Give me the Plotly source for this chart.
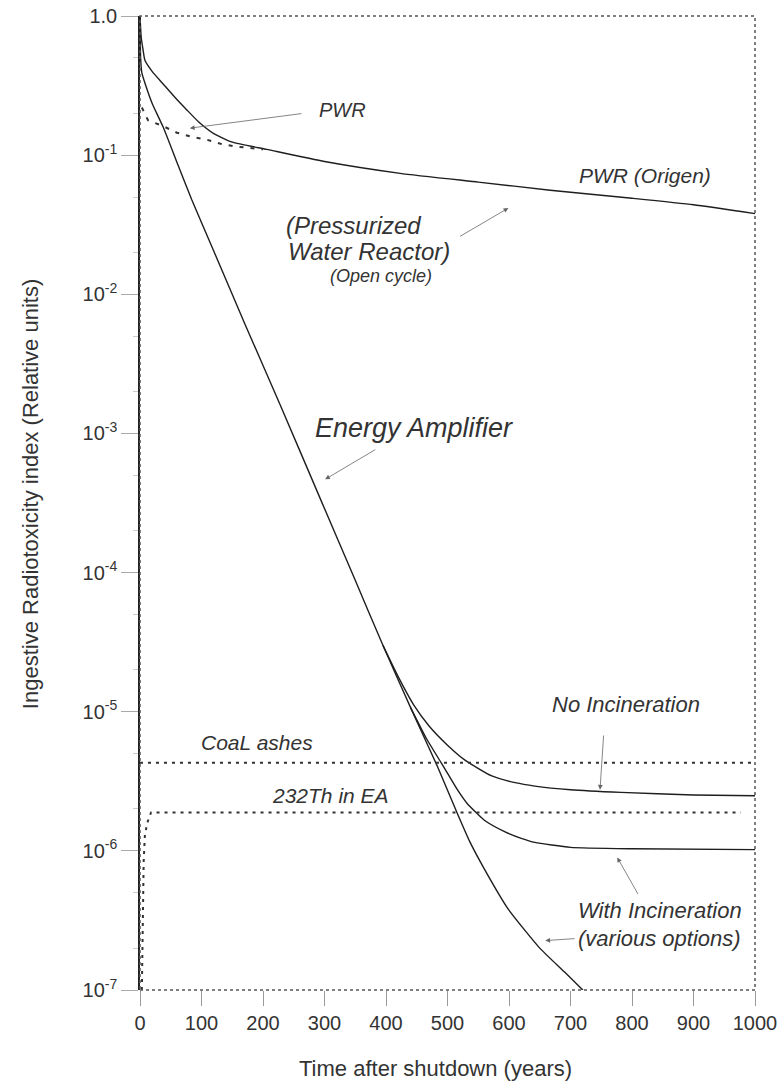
import plotly.graph_objects as go

# ---------------- data ----------------
pwr_t = [0, 2, 5, 8, 20, 37, 60, 75, 95, 120, 150, 206, 300, 423, 550, 667, 800, 900, 1000]
pwr_v = [1.0, 0.70, 0.57, 0.48, 0.398, 0.327, 0.251, 0.214, 0.174, 0.143, 0.124, 0.11,
         0.09, 0.074, 0.064, 0.056, 0.049, 0.044, 0.038]

pwr_dash_t = [3, 13, 37, 60, 85, 109, 133, 158, 200]
pwr_dash_v = [0.22, 0.178, 0.162, 0.145, 0.135, 0.129, 0.12, 0.115, 0.11]

ea_t = [0, 1, 3, 10, 20, 38, 60, 84, 119, 170, 228, 295, 350, 395, 440, 483,
        515, 536, 560, 599, 650, 690, 720]
ea_v = [1.0, 0.50, 0.39, 0.31, 0.234, 0.158, 0.089, 0.048, 0.0209, 6.2e-3, 1.6e-3,
        3.25e-4, 8.8e-5, 3.0e-5, 1.07e-5, 4.1e-6, 1.9e-6, 1.17e-6, 7.4e-7, 3.8e-7,
        2.0e-7, 1.35e-7, 1.0e-7]

noinc_t = [395, 420, 445, 470, 500, 529, 571, 610, 642, 700, 782, 900, 1000]
noinc_v = [3.0e-5, 1.78e-5, 1.12e-5, 7.9e-6, 5.75e-6, 4.47e-6, 3.47e-6, 3.09e-6,
           2.92e-6, 2.75e-6, 2.63e-6, 2.52e-6, 2.49e-6]

inc_t = [440, 465, 494, 515, 532, 560, 592, 620, 642, 700, 800, 1000]
inc_v = [1.07e-5, 6.5e-6, 4.0e-6, 2.8e-6, 2.19e-6, 1.66e-6, 1.38e-6, 1.23e-6,
         1.15e-6, 1.06e-6, 1.035e-6, 1.02e-6]

coal_t = [0, 995]
coal_v = [4.3e-6, 4.3e-6]

th_t = [3, 4, 5, 6, 8, 12, 18, 977]
th_v = [1.0e-7, 2.0e-7, 4.5e-7, 8.5e-7, 1.3e-6, 1.6e-6, 1.89e-6, 1.89e-6]

x_ticks = [0, 100, 200, 300, 400, 500, 600, 700, 800, 900, 1000]
y_tickvals = [1.0, 1e-1, 1e-2, 1e-3, 1e-4, 1e-5, 1e-6, 1e-7]
y_ticktext = ["1.0", "10<sup>-1</sup>", "10<sup>-2</sup>", "10<sup>-3</sup>",
              "10<sup>-4</sup>", "10<sup>-5</sup>", "10<sup>-6</sup>", "10<sup>-7</sup>"]

# ---------------- figure ----------------
LINE = "#1e1e1e"
TXT = "#333333"
FONT = "Liberation Sans, Arial, sans-serif"

fig = go.Figure()

def solid(t, v):
    fig.add_trace(go.Scatter(x=t, y=v, mode="lines",
                             line=dict(color=LINE, width=1.4, shape="spline", smoothing=0.5),
                             showlegend=False, hoverinfo="skip"))

def dashed(t, v, dash="3px,5px", width=2.0):
    fig.add_trace(go.Scatter(x=t, y=v, mode="lines",
                             line=dict(color="#333333", width=width, dash=dash),
                             showlegend=False, hoverinfo="skip"))

solid(pwr_t, pwr_v)
solid(ea_t, ea_v)
solid(noinc_t, noinc_v)
solid(inc_t, inc_v)
dashed(pwr_dash_t, pwr_dash_v, dash="4px,7px", width=2.0)
dashed(coal_t, coal_v)
dashed(th_t, th_v)

ann = []

def label(text, x, ylog, size, anchor="center"):
    ann.append(dict(x=x, y=ylog, xref="x", yref="y", text=f"<i>{text}</i>", showarrow=False,
                    font=dict(family=FONT, size=size, color=TXT),
                    xanchor=anchor, yanchor="middle"))

def arrow(x_head, y_head, x_tail, y_tail):
    ann.append(dict(x=x_head, y=y_head, ax=x_tail, ay=y_tail, xref="x", yref="y",
                    axref="x", ayref="y", text="", showarrow=True,
                    arrowhead=2, arrowsize=1.2, arrowwidth=0.8, arrowcolor="#666666"))

label("PWR", 330, -0.676, 20)
arrow(81, -0.806, 265, -0.70)
label("PWR (Origen)", 821, -1.144, 21)
label("(Pressurized", 234, -1.505, 24, anchor="left")
label("Water Reactor)", 237, -1.695, 24, anchor="left")
label("(Open cycle)", 392, -1.865, 18)
arrow(599, -1.38, 518, -1.59)
label("Energy Amplifier", 445, -2.964, 27)
arrow(301, -3.33, 385, -3.11)
label("No Incineration", 790, -4.946, 22)
arrow(748, -5.56, 754, -5.16)
label("CoaL ashes", 191, -5.22, 21)
label("232Th in EA", 309, -5.60, 21)
label("With Incineration", 846, -6.43, 22)
label("(various options)", 845, -6.63, 22)
arrow(776, -6.047, 811, -6.32)
arrow(659, -6.645, 709, -6.63)

# axis titles
ann.append(dict(x=0.481, y=-0.0801, xref="paper", yref="paper",
                text="Time after shutdown (years)", showarrow=False,
                font=dict(family=FONT, size=22, color=TXT),
                xanchor="center", yanchor="middle"))
ann.append(dict(x=-0.179, y=0.509, xref="paper", yref="paper",
                text="Ingestive Radiotoxicity index (Relative units)", showarrow=False,
                textangle=-90, font=dict(family=FONT, size=22, color=TXT),
                xanchor="center", yanchor="middle"))

fig.update_layout(
    width=782, height=1084,
    margin=dict(l=140, r=27, t=16, b=94),
    paper_bgcolor="white", plot_bgcolor="white",
    annotations=ann,
    shapes=[dict(type="rect", xref="paper", yref="paper", x0=0, y0=0, x1=1, y1=1,
                 line=dict(color="#555555", width=1.5, dash="dot"), layer="above")],
    xaxis=dict(range=[0, 1000], tickvals=x_ticks, showgrid=False, zeroline=False,
               ticks="outside", ticklen=15, tickwidth=1, tickcolor="#9a9a9a",
               showline=False, automargin=False,
               tickfont=dict(family=FONT, size=20, color=TXT)),
    yaxis=dict(type="log", range=[-7, 0], tickvals=y_tickvals, ticktext=y_ticktext,
               showgrid=False, zeroline=False, automargin=False,
               ticks="outside", ticklen=17, tickwidth=1, tickcolor="#aaaaaa",
               showline=True, linecolor="#222222", linewidth=1.5,
               minor=dict(ticks="outside", ticklen=5, tickcolor="#cccccc", showgrid=False),
               tickfont=dict(family=FONT, size=20, color=TXT)),
)

fig.write_html("out.html", config={"displayModeBar": False},
               post_script="document.body.style.margin='0';document.body.style.overflow='hidden';")
